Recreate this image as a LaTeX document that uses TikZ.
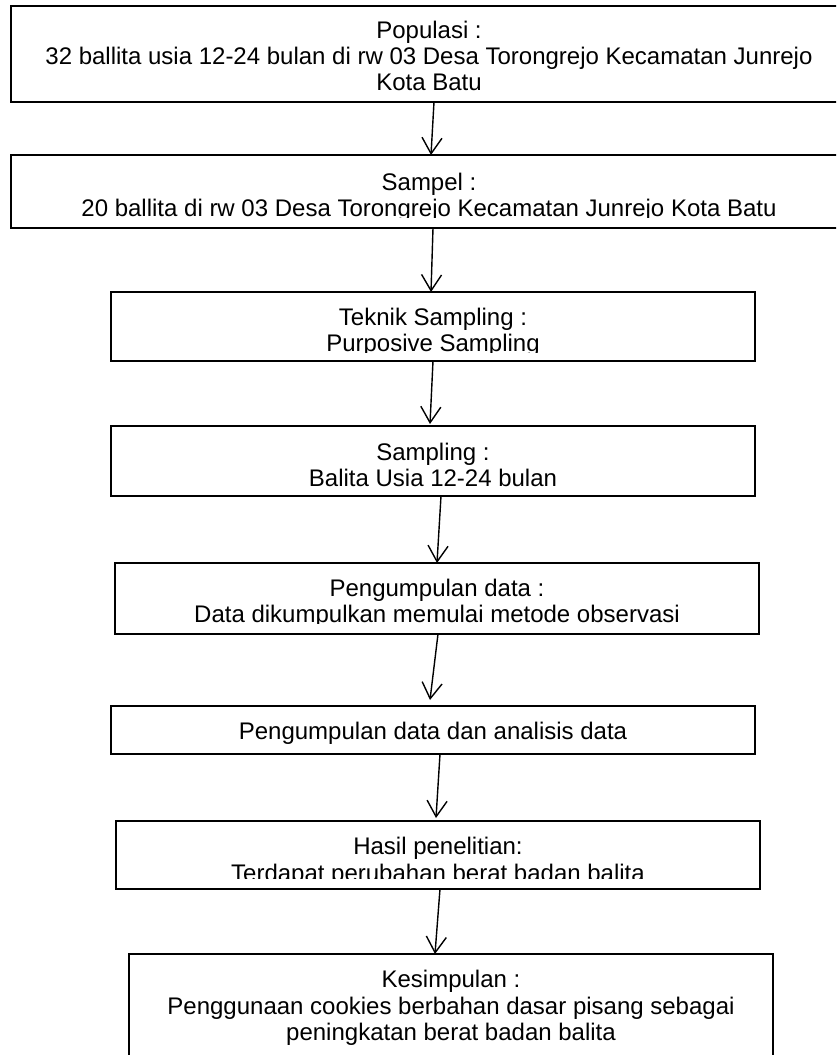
\documentclass[tikz,border=0pt]{standalone}
\usepackage{fontspec}
\setmainfont{Liberation Sans}
\usetikzlibrary{arrows.meta}
\tikzset{
  box/.style={draw=black, line width=0.7pt, rectangle, inner sep=0pt, outer sep=0pt, fill=white},
  txt/.style={anchor=base, inner sep=0pt, font=\fontsize{12pt}{13pt}\selectfont},
  arr/.style={line width=0.7pt, -{Straight Barb[length=8pt,width=10pt,line width=0.7pt]}}
}
\begin{document}
\begin{tikzpicture}[x=0.5pt,y=-0.5pt]
\clip (0,0) rectangle (836,1055);
\fill[white] (0,0) rectangle (836,1055);

% boxes
\node[box, minimum width=418pt, minimum height=48pt]   (b1) at (429,54) {};
\node[box, minimum width=418pt, minimum height=36.5pt] (b2) at (429,191.5) {};
\node[box, minimum width=322pt, minimum height=34.5pt] (b3) at (433,326.5) {};
\node[box, minimum width=322pt, minimum height=35pt]   (b4) at (433,461) {};
\node[box, minimum width=322pt, minimum height=35.5pt] (b5) at (437,598.5) {};
\node[box, minimum width=322pt, minimum height=24pt]   (b6) at (433,730) {};
\node[box, minimum width=322pt, minimum height=34pt]   (b7) at (438,855) {};
\node[box, minimum width=322pt, minimum height=54pt]   (b8) at (451,1008) {};

% texts (clipped like text boxes)
\begin{scope}
\clip (11,6) rectangle (847,92);
\node[txt] (t1a) at (429,38) {Populasi :};
\node[txt] (t1b) at (429,64) {32 ballita usia 12-24 bulan di rw 03 Desa Torongrejo Kecamatan Junrejo};
\node[txt] (t1c) at (429,90) {Kota Batu};
\end{scope}
\begin{scope}
\clip (11,155) rectangle (847,217);
\node[txt] (t2a) at (429,190) {Sampel :};
\node[txt] (t2b) at (429,216) {20 ballita di rw 03 Desa Torongrejo Kecamatan Junrejo Kota Batu};
\end{scope}
\begin{scope}
\clip (111,292) rectangle (755,352);
\node[txt] (t3a) at (433,325) {Teknik Sampling :};
\node[txt] (t3b) at (433,351) {Purposive Sampling};
\end{scope}
\begin{scope}
\clip (111,426) rectangle (755,486);
\node[txt] (t4a) at (433,460) {Sampling :};
\node[txt] (t4b) at (433,486) {Balita Usia 12-24 bulan};
\end{scope}
\begin{scope}
\clip (115,563) rectangle (759,623);
\node[txt] (t5a) at (437,596) {Pengumpulan data :};
\node[txt] (t5b) at (437,622) {Data dikumpulkan memulai metode observasi};
\end{scope}
\node[txt] (t6a) at (433,739) {Pengumpulan data dan analisis data};
\begin{scope}
\clip (116,821) rectangle (760,878);
\node[txt] (t7a) at (438,854) {Hasil penelitian:};
\node[txt] (t7b) at (438,881) {Terdapat perubahan berat badan balita};
\end{scope}
\node[txt] (t8a) at (451,987) {Kesimpulan :};
\node[txt] (t8b) at (451,1014) {Penggunaan cookies berbahan dasar pisang sebagai};
\node[txt] (t8c) at (451,1040) {peningkatan berat badan balita};

% connectors
\draw[arr] ([xshift=2.5pt]b1.south) -- ([xshift=1pt]b2.north);
\draw[arr] ([xshift=2pt]b2.south) -- ([xshift=-1pt]b3.north);
\draw[arr] (b3.south) -- ([xshift=-1.5pt,yshift=1pt]b4.north);
\draw[arr] ([xshift=4pt]b4.south) -- (b5.north);
\draw[arr] ([xshift=0.5pt]b5.south) -- ([xshift=-1.5pt,yshift=3pt]b6.north);
\draw[arr] ([xshift=3.5pt]b6.south) -- ([xshift=-1pt,yshift=1.5pt]b7.north);
\draw[arr] ([xshift=1pt]b7.south) -- ([xshift=-8pt]b8.north);
\end{tikzpicture}
\end{document}
